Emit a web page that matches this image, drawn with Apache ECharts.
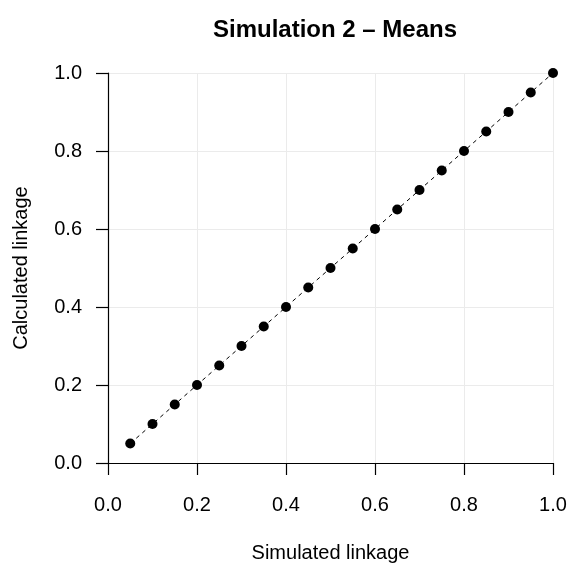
<!DOCTYPE html>
<html>
<head>
<meta charset="utf-8">
<script src="https://cdn.jsdelivr.net/npm/echarts@6/dist/echarts.min.js"></script>
<style>
  html, body { margin: 0; padding: 0; background: #fff; }
  #chart { width: 571px; height: 568px; }
</style>
</head>
<body>
<div id="chart"></div>
<script>
// simulated vs calculated linkage (means)
const simulated = [0.05, 0.10, 0.15, 0.20, 0.25, 0.30, 0.35, 0.40, 0.45, 0.50,
  0.55, 0.60, 0.65, 0.70, 0.75, 0.80, 0.85, 0.90, 0.95, 1.00];
const calculated = [0.05, 0.10, 0.15, 0.20, 0.25, 0.30, 0.35, 0.40, 0.45, 0.50,
  0.55, 0.60, 0.65, 0.70, 0.75, 0.80, 0.85, 0.90, 0.95, 1.00];
const tickValues = [0, 0.2, 0.4, 0.6, 0.8, 1.0];

const font = 'Liberation Sans, Arial, sans-serif';
const points = simulated.map((x, i) => [x, calculated[i]]);

const chart = echarts.init(document.getElementById('chart'));

const axisCommon = {
  type: 'value',
  min: tickValues[0],
  max: tickValues[tickValues.length - 1],
  interval: 0.2,
  nameLocation: 'middle',
  nameTextStyle: { color: '#000', fontSize: 20, fontFamily: font },
  axisLine: { show: true, onZero: false, lineStyle: { color: '#000', width: 1.2 } },
  axisTick: { show: true, inside: false, length: 12, lineStyle: { color: '#000', width: 1.2 } },
  axisLabel: {
    color: '#000',
    fontSize: 20,
    fontFamily: font,
    formatter: (v) => v.toFixed(1),
  },
  splitLine: { show: true, lineStyle: { color: '#ebebeb', width: 1 } },
};

chart.setOption({
  animation: false,
  backgroundColor: '#fff',
  title: {
    text: 'Simulation 2 \u2013 Means',
    left: 208,
    top: 13,
    textStyle: { color: '#000', fontSize: 24, fontWeight: 'bold', fontFamily: font },
  },
  grid: { left: 108, right: 18, top: 73, bottom: 100, containLabel: false },
  xAxis: Object.assign({}, axisCommon, {
    name: 'Simulated linkage',
    nameGap: 80,
    axisLabel: Object.assign({}, axisCommon.axisLabel, { margin: 32 }),
  }),
  yAxis: Object.assign({}, axisCommon, {
    name: 'Calculated linkage',
    nameGap: 77,
    axisLabel: Object.assign({}, axisCommon.axisLabel, { margin: 26 }),
  }),
  series: [
    {
      type: 'line',
      data: points,
      showSymbol: false,
      lineStyle: { color: '#000', width: 1, type: [4, 4] },
      z: 2,
    },
    {
      type: 'scatter',
      data: points,
      symbol: 'circle',
      symbolSize: 10,
      itemStyle: { color: '#000', opacity: 1 },
      z: 3,
    },
  ],
});
</script>
</body>
</html>
